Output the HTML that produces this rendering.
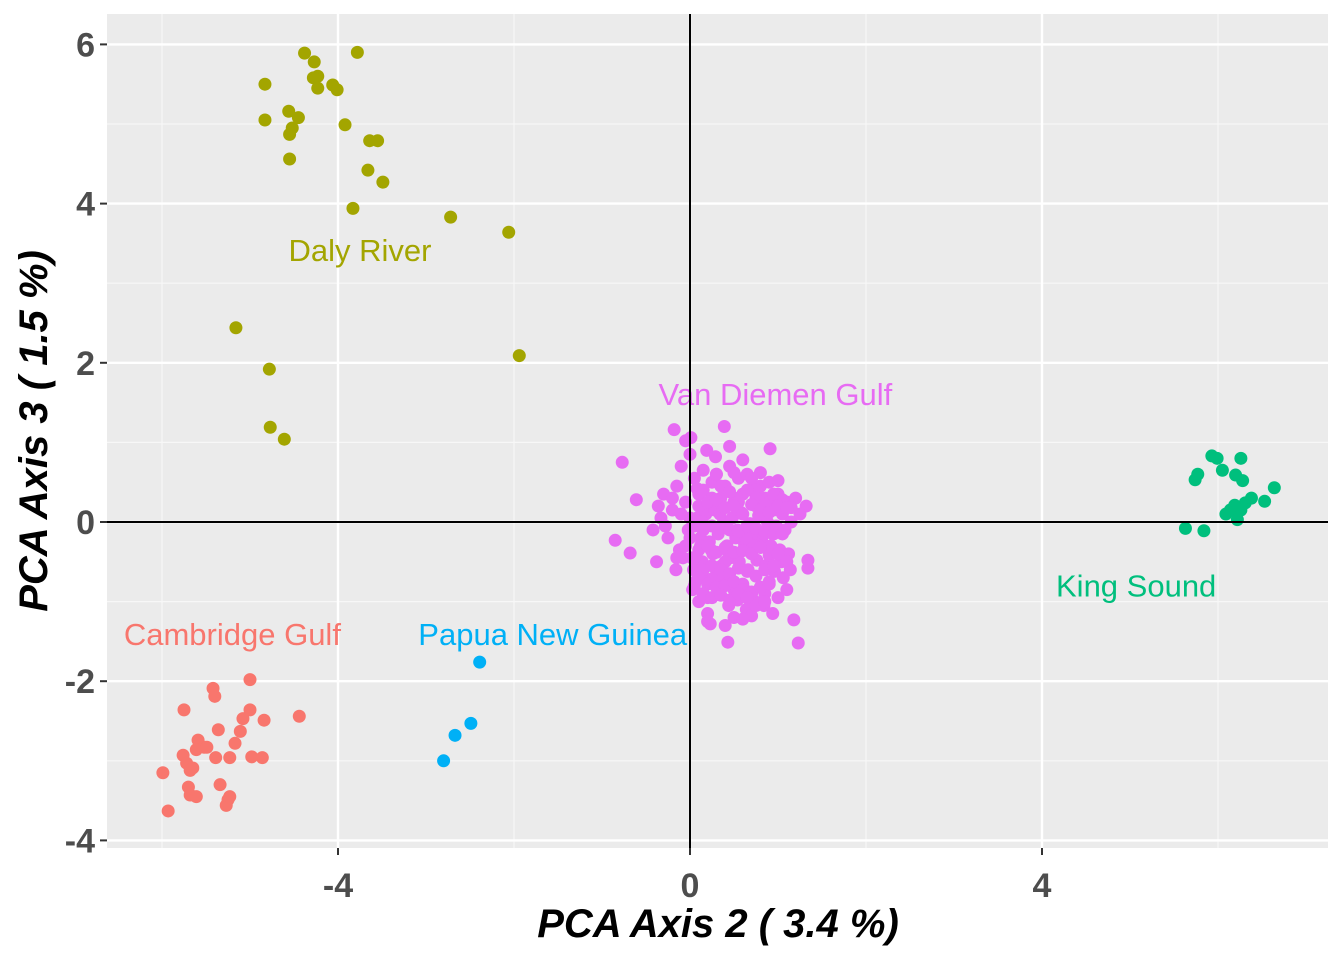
<!DOCTYPE html>
<html><head><meta charset="utf-8"><style>
body{margin:0;background:#fff;}
svg text{font-family:"Liberation Sans",sans-serif;}
</style></head><body>
<svg id="chart" width="1344" height="960" xmlns="http://www.w3.org/2000/svg">
<rect x="0" y="0" width="1344" height="960" fill="#fff"/>
<rect x="107" y="14" width="1221" height="834" fill="#ebebeb"/>
<g id="grid"></g>
<g id="pts"></g>
<g id="labels"></g>
<g id="axes"></g>
<text x="718" y="937" text-anchor="middle" font-size="40" font-weight="bold" font-style="italic">PCA Axis 2 ( 3.4 %)</text>
<text transform="translate(47,431) rotate(-90)" text-anchor="middle" font-size="40" font-weight="bold" font-style="italic">PCA Axis 3 ( 1.5 %)</text>
</svg>
<script>
const xTicks=[-4,0,4];
const yTicks=[6,4,2,0,-2,-4];
const xMinor=[-6,-2,2,6];
const yMinor=[5,3,1,-1,-3];
const groups=["Cambridge Gulf","Daly River","King Sound","Papua New Guinea","Van Diemen Gulf"];
const colors=["#f8766d","#a3a500","#00bf7d","#00b0f6","#e76bf3"];
const labelPos=[[-5.2,-1.41],[-3.75,3.42],[5.07,-0.80],[-1.56,-1.41],[0.97,1.61]];
const dalyX=[-4.38,-3.78,-4.27,-4.23,-4.28,-4.23,-4.06,-4.01,-4.83,-4.56,-4.45,-4.83,-4.52,-4.55,-3.92,-3.64,-3.55,-4.55,-3.66,-3.49,-3.83,-2.72,-2.06,-5.16,-1.94,-4.78,-4.77,-4.61];
const dalyY=[5.89,5.90,5.78,5.60,5.58,5.45,5.49,5.43,5.50,5.16,5.08,5.05,4.95,4.87,4.99,4.79,4.79,4.56,4.42,4.27,3.94,3.83,3.64,2.44,2.09,1.92,1.19,1.04];
const cambX=[-5.93,-5.99,-5.76,-5.72,-5.68,-5.65,-5.70,-5.68,-5.61,-5.59,-5.61,-5.52,-5.49,-5.75,-5.42,-5.40,-5.36,-5.39,-5.34,-5.25,-5.27,-5.23,-5.23,-5.17,-5.11,-5.08,-5.0,-5.0,-4.98,-4.86,-4.84,-4.44];
const cambY=[-3.63,-3.15,-2.93,-3.03,-3.12,-3.09,-3.33,-3.43,-3.45,-2.74,-2.86,-2.83,-2.83,-2.36,-2.09,-2.19,-2.61,-2.96,-3.30,-3.49,-3.56,-3.45,-2.96,-2.78,-2.63,-2.47,-2.36,-1.98,-2.95,-2.96,-2.49,-2.44];
const pngX=[-2.39,-2.49,-2.67,-2.80];
const pngY=[-1.76,-2.53,-2.68,-3.0];
const kingX=[5.63,5.84,5.74,5.77,5.93,5.99,6.05,6.26,6.20,6.28,6.09,6.14,6.22,6.26,6.31,6.38,6.53,6.64,6.19];
const kingY=[-0.08,-0.11,0.53,0.60,0.83,0.80,0.65,0.80,0.59,0.52,0.10,0.15,0.03,0.15,0.24,0.30,0.26,0.43,0.21];
const vdgX=[-0.85,-0.77,-0.68,-0.61,-0.18,0.01,0.39,0.91,1.23,0.43,0.23,1.32,1.34,1.34,0.03,1.18,-0.38,-0.33,-0.3,-0.25,-0.2,-0.15,-0.12,-0.1,-0.05,-0.28,-0.42,-0.36,-0.16,-0.08,0.05,0.1,0.15,0.2,0.25,0.3,0.35,0.4,0.45,0.5,0.55,0.6,0.65,0.7,0.75,0.8,0.85,0.9,0.95,1.0,1.05,1.1,1.15,1.2,1.25,0.08,0.18,0.28,0.38,0.48,0.58,0.68,0.78,0.88,0.98,1.08,0.12,0.22,0.32,0.42,0.52,0.62,0.72,0.82,0.92,1.02,1.12,0.02,0.14,0.26,0.36,0.46,0.56,0.66,0.76,0.86,0.96,1.06,0.06,0.16,0.3,0.4,0.5,0.6,0.7,0.8,0.9,1.0,0.1,0.2,0.34,0.44,0.54,0.64,0.74,0.84,0.94,0.04,0.24,0.44,0.64,0.84,1.04,0.14,0.34,0.54,0.74,0.94,1.14,0.0,-0.05,0.19,0.29,0.6,0.8,1.0,0.2,0.5,0.7,0.45,0.9,0.33,0.62,0.12,-0.02,0.75,1.1,0.55,0.27,0.85,0.08,0.4,
0.05,0.15,0.25,0.35,0.45,0.55,0.65,0.75,0.85,0.95,1.05,1.15,0.0,0.1,0.2,0.3,0.4,0.5,0.6,0.7,0.8,0.9,1.0,1.1,0.05,0.15,0.25,0.35,0.45,0.55,0.65,0.75,0.85,0.95,1.05,0.0,0.1,0.2,0.3,0.4,0.5,0.6,0.7,0.8,0.9,1.0,1.1,0.05,0.15,0.25,0.35,0.45,0.55,0.65,0.75,0.85,0.95,0.1,0.2,0.3,0.4,0.5,0.6,0.7,0.8,0.9,0.15,0.25,0.35,0.45,0.55,0.65,0.75,0.85,-0.1,-0.2,-0.05,-0.15,0.3,0.5,0.7,0.2,0.4,0.6];
const vdgY=[-0.23,0.75,-0.39,0.28,1.16,1.06,1.2,0.92,-1.52,-1.51,-1.28,0.2,-0.48,-0.58,-0.85,-1.23,-0.5,0.05,0.35,-0.2,0.15,0.45,-0.35,0.7,0.25,-0.05,-0.1,0.2,-0.6,-0.45,0.55,0.35,0.65,0.2,0.5,0.6,0.3,0.45,0.7,0.25,0.55,0.35,0.6,0.4,0.2,0.45,0.3,0.5,0.15,0.35,0.1,0.25,0.0,0.3,0.1,0.05,0.1,0.15,0.0,0.05,0.12,-0.02,0.08,0.0,-0.05,-0.1,-0.2,-0.25,-0.15,-0.3,-0.2,-0.28,-0.18,-0.25,-0.3,-0.35,-0.4,-0.45,-0.5,-0.4,-0.55,-0.45,-0.5,-0.6,-0.48,-0.55,-0.62,-0.7,-0.75,-0.7,-0.8,-0.72,-0.85,-0.78,-0.9,-0.82,-0.75,-0.95,-1.0,-0.95,-0.88,-1.05,-0.98,-1.1,-1.0,-1.05,-1.15,-0.6,-0.35,-0.4,-0.2,-0.15,-0.5,0.0,0.1,-0.1,-0.3,-0.15,-0.6,0.85,1.02,0.9,0.82,0.78,0.62,0.52,-1.15,-1.2,-1.18,0.95,0.25,-0.65,-0.85,-0.3,-0.1,0.4,-0.85,0.3,-0.7,-0.9,0.42,-0.5,-0.8,
0.4,0.3,0.45,0.38,0.25,0.4,0.3,0.22,0.35,0.28,0.18,0.05,0.2,0.25,0.28,0.18,0.2,0.1,0.22,0.15,0.12,0.2,0.18,-0.05,-0.1,-0.05,-0.08,-0.1,-0.12,-0.05,-0.08,-0.12,-0.15,-0.15,-0.2,-0.35,-0.3,-0.38,-0.32,-0.38,-0.36,-0.4,-0.32,-0.42,-0.4,-0.5,-0.45,-0.6,-0.55,-0.6,-0.65,-0.58,-0.62,-0.68,-0.6,-0.55,-0.7,-0.78,-0.82,-0.8,-0.75,-0.85,-0.88,-0.82,-0.78,-0.9,-0.95,-0.92,-0.98,-0.9,-0.95,-1.05,-1.0,0.1,0.3,-0.3,-0.45,0.6,0.62,0.55,-1.25,-1.3,-1.22];
const xS=v=>690+v*88;
const yS=v=>522-v*79.6;
const NS="http://www.w3.org/2000/svg";
function mk(tag,attrs,parent){const e=document.createElementNS(NS,tag);for(const k in attrs)e.setAttribute(k,attrs[k]);parent.appendChild(e);return e;}
const grid=document.getElementById('grid');
xMinor.forEach(v=>{const l=mk('line',{x1:xS(v),x2:xS(v),y1:14,y2:848,stroke:'#f7f7f7','stroke-width':1.2},grid);

});
yMinor.forEach(v=>{const l=mk('line',{x1:107,x2:1328,y1:yS(v),y2:yS(v),stroke:'#f7f7f7','stroke-width':1.2},grid);

});
xTicks.forEach(v=>{const l=mk('line',{x1:xS(v),x2:xS(v),y1:14,y2:848,stroke:'#fff','stroke-width':2.4},grid);

});
yTicks.forEach(v=>{const l=mk('line',{x1:107,x2:1328,y1:yS(v),y2:yS(v),stroke:'#fff','stroke-width':2.4},grid);

});
const axes=document.getElementById('axes');
let h=mk('line',{x1:107,x2:1328,y1:yS(0),y2:yS(0),stroke:'#000','stroke-width':2},axes);


let vl=mk('line',{x1:xS(0),x2:xS(0),y1:14,y2:848,stroke:'#000','stroke-width':2},axes);


xTicks.forEach(v=>{const t=mk('line',{x1:xS(v),x2:xS(v),y1:848,y2:855,stroke:'#333','stroke-width':2},axes);


const tx=mk('text',{x:xS(v),y:897,'text-anchor':'middle','font-size':34,'font-weight':'bold',fill:'#4d4d4d'},axes);
tx.textContent=v;

});
yTicks.forEach(v=>{const t=mk('line',{x1:100,x2:107,y1:yS(v),y2:yS(v),stroke:'#333','stroke-width':2},axes);


const tx=mk('text',{x:95,y:yS(v)+12,'text-anchor':'end','font-size':34,'font-weight':'bold',fill:'#4d4d4d'},axes);
tx.textContent=v;

});
const pts=document.getElementById('pts');
const series=[[cambX,cambY],[dalyX,dalyY],[kingX,kingY],[pngX,pngY],[vdgX,vdgY]];
series.forEach((s,gi)=>{s[0].forEach((x,i)=>{const c=mk('circle',{cx:xS(x),cy:yS(s[1][i]),r:6.5,fill:colors[gi]},pts);

});});
const lab=document.getElementById('labels');
groups.forEach((g,gi)=>{const t=mk('text',{x:xS(labelPos[gi][0]),y:yS(labelPos[gi][1])+11,'text-anchor':'middle','font-size':31,fill:colors[gi]},lab);
t.textContent=g;

});
</script>
</body></html>
